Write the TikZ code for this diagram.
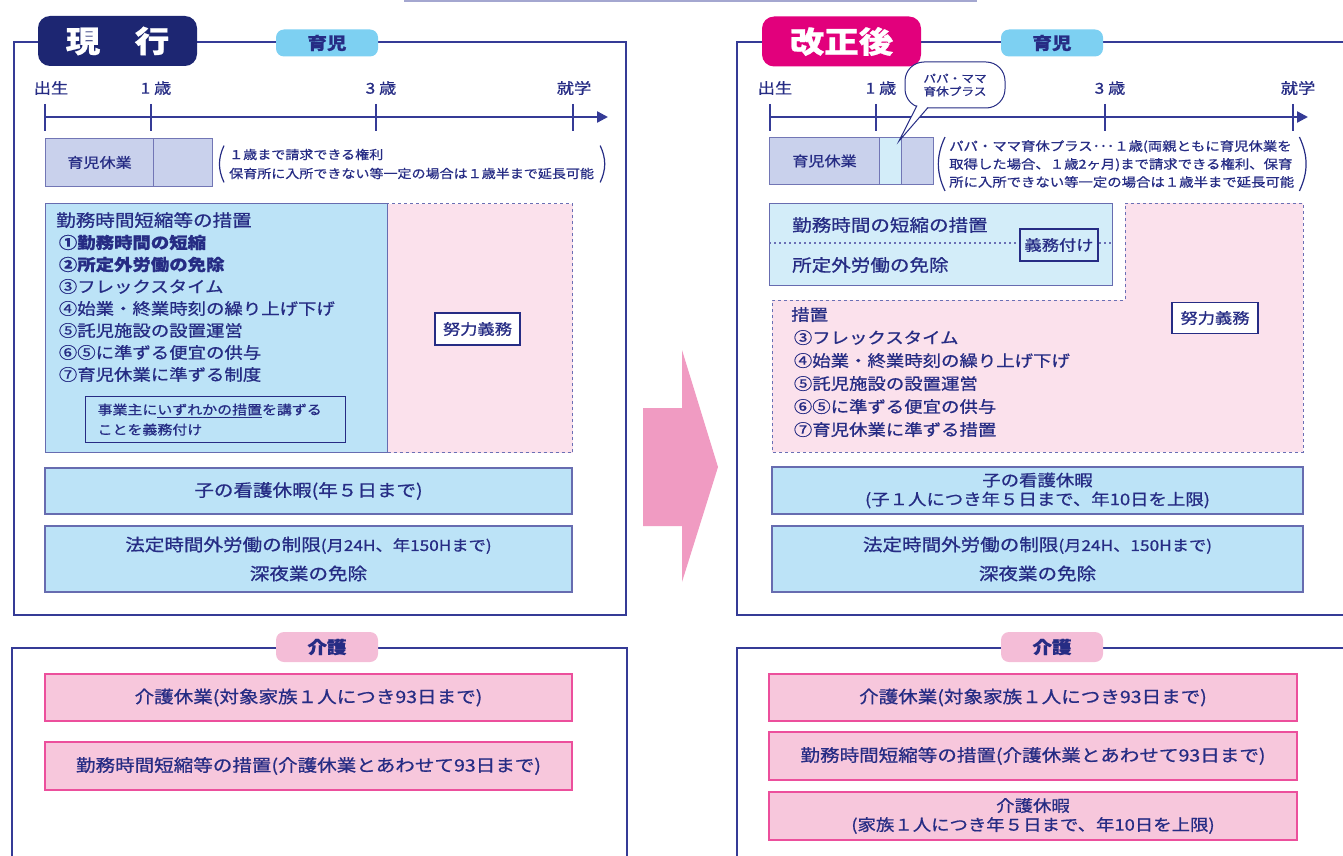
\documentclass[tikz,border=0pt]{standalone}
\usepackage{fontspec}
\setmainfont{Noto Sans CJK JP}[FakeStretch=1.15, FakeBold=0.8]
\usepackage{tikz}
\usepackage{xcolor}
\usetikzlibrary{arrows.meta}

\definecolor{navy}{HTML}{262C84}
\definecolor{framecol}{HTML}{353B96}
\definecolor{genkocol}{HTML}{1D2672}
\definecolor{kaiseicol}{HTML}{E2007C}
\definecolor{ikujicol}{HTML}{7DD0F2}
\definecolor{kaigocol}{HTML}{F4BDD7}
\definecolor{skyfill}{HTML}{BCE3F7}
\definecolor{paleblue}{HTML}{D3EDF9}
\definecolor{pinkfill}{HTML}{FBE1EC}
\definecolor{kaigofill}{HTML}{F7C7DC}
\definecolor{kaigoedge}{HTML}{EC4F9C}
\definecolor{leavefill}{HTML}{C9D1EC}
\definecolor{arrowpink}{HTML}{F09BC2}
\definecolor{dashcol}{HTML}{6A6FB5}

\begin{document}
\begin{tikzpicture}[x=1pt,y=-1pt,
    every node/.style={text=navy},
    frame/.style={draw=framecol, line width=2.4pt},
    badge/.style={rounded corners=12pt, minimum width=159pt, minimum height=50pt, text=white, font=\fontsize{30}{30}\selectfont\bfseries},
    tag/.style={rounded corners=8pt, minimum width=102pt, minimum height=27pt, font=\fontsize{17}{17}\selectfont\bfseries},
    box/.style={draw=framecol!75, line width=1.3pt, inner sep=0pt, align=center, font=\fontsize{17}{21}\selectfont},
    bluebox/.style={box, fill=skyfill},
    kaigobox/.style={box, fill=kaigofill, draw=kaigoedge},
    leavebox/.style={box, fill=leavefill, draw=framecol!70, line width=1pt, minimum height=48pt, font=\fontsize{14}{14}\selectfont},
    dashbox/.style={fill=pinkfill, draw=dashcol, line width=1pt, dash pattern=on 3pt off 3pt},
    smallbox/.style={draw=navy, line width=1.2pt, fill=white, inner sep=0pt, minimum height=32pt, font=\fontsize{15}{15}\selectfont},
    tline/.style={draw=framecol, line width=2.4pt},
    paren/.style={draw=navy, line width=1.2pt},
    age/.style={font=\fontsize{15}{15}\selectfont}]
\useasboundingbox (0,0) rectangle (1343,856);

% cut off box at the very top
\draw[draw=framecol!45, line width=1.5pt] (405,-5) -- (405,1) -- (976,1) -- (976,-5);

%%%%% left: current law
\draw[frame] (14,42) rectangle (626,615);
\node[badge, fill=genkocol] (genko) at (117.5,41) {現　行};
\node[tag, fill=ikujicol] (ikujiL) at (327,43) {育児};

% time line
\coordinate (tlLa) at (45,117);
\coordinate (tlLb) at (608,117);
\draw[tline, -{Triangle[length=11pt,width=11pt]}] (tlLa) -- (tlLb);
\foreach \x in {45,151,376,573} \draw[tline] (\x,104) -- (\x,131);
\node[age] (birthL) at (51,88) {出生};
\node[age] (oneL) at (156,88) {1 歳};
\node[age] (threeL) at (381,88) {3 歳};
\node[age] (schoolL) at (574,88) {就学};

\node[leavebox, anchor=north west, minimum width=108pt] (leaveLa) at (45,138) {育児休業};
\node[leavebox, anchor=north west, minimum width=59pt] (leaveLb) at (153,138) {};
\node[anchor=west, align=left, inner sep=0pt, font=\fontsize{12.2}{19}\selectfont] (noteL) at (229,164)
    {１歳まで請求できる権利\\保育所に入所できない等一定の場合は１歳半まで延長可能};
\draw[paren] ([xshift=-5pt,yshift=3pt]noteL.north west) to[bend right=25] ([xshift=-5pt,yshift=-3pt]noteL.south west);
\draw[paren] ([xshift=6pt,yshift=3pt]noteL.north east) to[bend left=25] ([xshift=6pt,yshift=-3pt]noteL.south east);

% measures
\node[dashbox, anchor=north west, minimum width=185pt, minimum height=249pt] (effortL) at (387,203) {};
\node[bluebox, anchor=north west, minimum width=342pt, minimum height=249pt] (measL) at (45,203) {};
\node[anchor=north west, align=left, inner sep=0pt, font=\fontsize{16}{22}\selectfont] (listL) at (56,212)
    {{\fontsize{17}{17}\selectfont 勤務時間短縮等の措置}\\
     \,\textbf{①勤務時間の短縮}\\
     \,\textbf{②所定外労働の免除}\\
     \,③フレックスタイム\\
     \,④始業・終業時刻の繰り上げ下げ\\
     \,⑤託児施設の設置運営\\
     \,⑥⑤に準ずる便宜の供与\\
     \,⑦育児休業に準ずる制度};
\node[draw=navy, line width=1.2pt, anchor=north west, inner xsep=12pt, inner ysep=0pt, minimum height=46pt,
      text width=236pt, align=left, font=\fontsize{13}{20}\selectfont] (dutyL) at (85,396)
    {事業主に\underline{いずれかの措置}を講ずる\\ことを義務付け};
\node[smallbox, minimum width=85pt] (effL) at (477.5,329) {努力義務};

\node[bluebox, minimum width=527pt, minimum height=46pt] (nurseL) at (308.5,491) {子の看護休暇(年５日まで)};
\node[bluebox, minimum width=527pt, minimum height=66pt, font=\fontsize{17}{29}\selectfont] (overL) at (308.5,559)
    {法定時間外労働の制限{\fontsize{15}{15}\selectfont(月24H、年150Hまで)}\\深夜業の免除};

% care
\draw[frame] (12,860) -- (12,648) -- (627,648) -- (627,860);
\node[tag, fill=kaigocol, minimum height=30pt] (kaigoL) at (327,647) {介護};
\node[kaigobox, minimum width=527pt, minimum height=47pt] (careLa) at (308.5,697.5) {介護休業(対象家族１人につき93日まで)};
\node[kaigobox, minimum width=527pt, minimum height=48pt] (careLb) at (308.5,766) {勤務時間短縮等の措置(介護休業とあわせて93日まで)};

%%%%% arrow
\fill[arrowpink] (643,408) -- (682,408) -- (682,350) -- (718,467) -- (682,582) -- (682,526) -- (643,526) -- cycle;

%%%%% right: after revision
\draw[frame] (1350,42) -- (737,42) -- (737,615) -- (1350,615);
\node[badge, fill=kaiseicol] (kaisei) at (841.5,41.5) {改正後};
\node[tag, fill=ikujicol] (ikujiR) at (1052,43) {育児};

% time line
\coordinate (tlRa) at (770,117);
\coordinate (tlRb) at (1308,117);
\draw[tline, -{Triangle[length=11pt,width=11pt]}] (tlRa) -- (tlRb);
\foreach \x in {770,876,1105,1293} \draw[tline] (\x,104) -- (\x,131);
\node[age] (birthR) at (775,88) {出生};
\node[age] (oneR) at (881,88) {1 歳};
\node[age] (threeR) at (1110,88) {3 歳};
\node[age] (schoolR) at (1298,88) {就学};

\node[leavebox, anchor=north west, minimum width=110pt, minimum height=47pt] (leaveRa) at (769,137) {育児休業};
\node[leavebox, anchor=north west, minimum width=22pt, minimum height=47pt, fill=paleblue] (leaveRb) at (879,137) {};
\node[leavebox, anchor=north west, minimum width=32pt, minimum height=47pt] (leaveRc) at (901,137) {};

\node[draw=navy, line width=1pt, fill=white, rounded corners=19pt, minimum width=100pt, minimum height=46pt,
      align=center, font=\fontsize{11}{13}\selectfont] (plus) at (955,85) {パパ・ママ\\育休プラス};
\coordinate (plusTip) at (899,141);
\filldraw[draw=navy, line width=1pt, fill=white] ([xshift=-38pt,yshift=3pt]plus.south) -- (plusTip) -- ([xshift=-27pt,yshift=1pt]plus.south);

\node[anchor=west, align=left, inner sep=0pt, font=\fontsize{12.5}{18}\selectfont] (noteR) at (949,164)
    {パパ・ママ育休プラス･･･１歳(両親ともに育児休業を\\取得した場合、１歳2ヶ月)まで請求できる権利、保育\\所に入所できない等一定の場合は１歳半まで延長可能};
\draw[paren] ([xshift=-4pt,yshift=3pt]noteR.north west) to[bend right=25] ([xshift=-4pt,yshift=-3pt]noteR.south west);
\draw[paren] ([xshift=5pt,yshift=3pt]noteR.north east) to[bend left=25] ([xshift=5pt,yshift=-3pt]noteR.south east);

% measures
\filldraw[dashbox] (1125,203) -- (1303,203) -- (1303,452) -- (772,452) -- (772,300) -- (1125,300) -- cycle;
\node[box, fill=paleblue, anchor=north west, minimum width=343pt, minimum height=82pt] (measR) at (769,203) {};
\coordinate (dotA) at (769,243);
\coordinate (dotB) at (1112,243);
\draw[draw=dashcol, line width=1.6pt, dash pattern=on 2pt off 3pt] (dotA) -- (dotB);
\node[anchor=west, inner sep=0pt, font=\fontsize{17}{17}\selectfont] (shortR) at (792,225) {勤務時間の短縮の措置};
\node[anchor=west, inner sep=0pt, font=\fontsize{17}{17}\selectfont] (overtimeR) at (792,265) {所定外労働の免除};
\node[smallbox, fill=paleblue, minimum width=78pt] (dutyR) at (1059,245) {義務付け};

\node[anchor=north west, align=left, inner sep=0pt, font=\fontsize{16}{23}\selectfont] (listR) at (791,307)
    {措置\\
     \,③フレックスタイム\\
     \,④始業・終業時刻の繰り上げ下げ\\
     \,⑤託児施設の設置運営\\
     \,⑥⑤に準ずる便宜の供与\\
     \,⑦育児休業に準ずる措置};
\node[smallbox, minimum width=86pt, minimum height=31pt] (effR) at (1215,318) {努力義務};

\node[bluebox, minimum width=531pt, minimum height=47pt, font=\fontsize{16}{19}\selectfont] (nurseR) at (1037.5,490.5)
    {子の看護休暇\\(子１人につき年５日まで、年10日を上限)};
\node[bluebox, minimum width=531pt, minimum height=66pt, font=\fontsize{17}{29}\selectfont] (overR) at (1037.5,559)
    {法定時間外労働の制限{\fontsize{15}{15}\selectfont(月24H、150Hまで)}\\深夜業の免除};

% care
\draw[frame] (737,860) -- (737,648) -- (1350,648);
\node[tag, fill=kaigocol, minimum height=30pt] (kaigoR) at (1052,647) {介護};
\node[kaigobox, minimum width=528pt, minimum height=47pt] (careRa) at (1033,697.5) {介護休業(対象家族１人につき93日まで)};
\node[kaigobox, minimum width=528pt, minimum height=48pt] (careRb) at (1033,756) {勤務時間短縮等の措置(介護休業とあわせて93日まで)};
\node[kaigobox, minimum width=528pt, minimum height=48pt, font=\fontsize{16}{19}\selectfont] (careRc) at (1033,816)
    {介護休暇\\(家族１人につき年５日まで、年10日を上限)};
\end{tikzpicture}
\end{document}
